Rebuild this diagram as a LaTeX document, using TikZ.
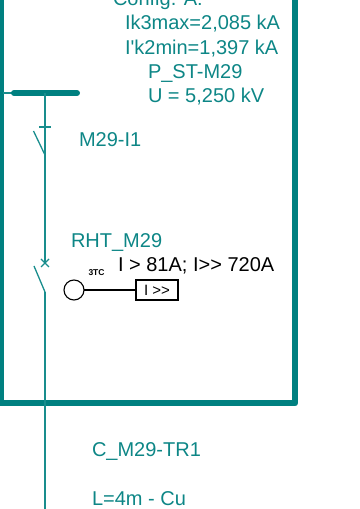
\documentclass[tikz,border=0pt]{standalone}
\usepackage{fontspec}
\newfontfamily\arialfam{Liberation Sans}
\usepackage{xcolor}
\definecolor{teal1}{HTML}{008080}
\begin{document}
\begin{tikzpicture}[x=1pt,y=1pt,
 every node/.style={inner sep=0pt,outer sep=0pt,anchor=base west,font=\arialfam\fontsize{20}{20}\selectfont},
 lbl/.style={text=teal1!95!white},
 net/.style={draw=teal1!90!white,line width=1.3pt}]
\useasboundingbox (0,0) rectangle (359,509);
\clip (0,0) rectangle (359,509);
\draw[teal1, line width=6, line join=round] (0.5,560)--(0.5,105.5)--(295,105.5)--(295,560);
% bus
\coordinate (feed) at (3,416);
\coordinate (busl) at (14,416);
\coordinate (busr) at (77,416);
\coordinate (busm) at (45,416);
\coordinate (brktop) at (45,246);
\coordinate (brkbot) at (45,217);
\coordinate (lineend) at (45,0);
\draw[net] (feed)--(busl);
\draw[teal1, line width=6, line cap=round] (busl)--(busr);
\draw[net] (busm)--(brktop);
\draw[net] (brkbot)--(lineend);
% isolator
\coordinate (isobot) at (45,354);
\coordinate (isoblade) at (33.5,378);
\draw[net] (39,382)--(51,382);
\draw[net] (isobot)--(isoblade);
% breaker
\coordinate (brkblade) at (34,243);
\draw[net] (41,242)--(49,250) (41,250)--(49,242);
\draw[net] (brkbot)--(brkblade);
% texts
\node[lbl] (cfg) at (113,503) {Config. A:};
\node[lbl] (ikmax) at (125,479.5) {Ik3max=2,085 kA};
\node[lbl] (ikmin) at (125,454.5) {I'k2min=1,397 kA};
\node[lbl] (pst) at (148,430.5) {P\_ST-M29};
\node[lbl] (volt) at (148,406.5) {U = 5,250 kV};
\node[lbl] (iso) at (79,362.5) {M29-I1};
\node[lbl] (rht) at (71,261.5) {RHT\_M29};
\node (prot) at (118,237) {I > 81A; I>{}> 720A};
\node[font=\arialfam\bfseries\fontsize{8.5}{8.5}\selectfont] (tc) at (88.5,233) {3TC};
\node[lbl] (cable) at (92,52) {C\_M29-TR1};
\node[lbl] (len) at (92,3) {L=4m - Cu};
% relay
\node[draw,circle,minimum size=20,line width=1.1,anchor=center] (ct) at (74,219) {};
\node[draw,minimum width=42,minimum height=20,line width=1.1,anchor=center,font=\arialfam\fontsize{15}{15}\selectfont] (relay) at (157,219) {I >{}>};
\draw[line width=1.1] (ct)--(relay);
\end{tikzpicture}
\end{document}
